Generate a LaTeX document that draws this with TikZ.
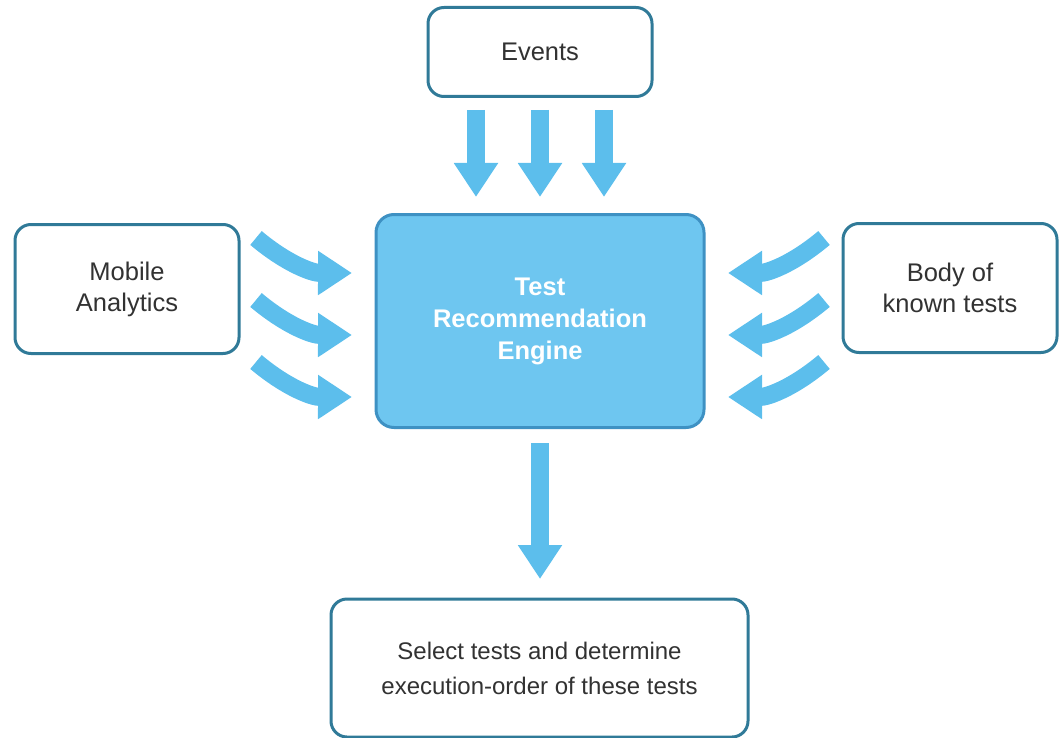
\documentclass[tikz,border=0pt]{standalone}
\usepackage{fontspec}
\setmainfont{Liberation Sans}
\usetikzlibrary{arrows.meta}
\definecolor{boxline}{RGB}{48,122,152}
\definecolor{enginefill}{RGB}{110,198,240}
\definecolor{engineline}{RGB}{62,145,195}
\definecolor{flow}{RGB}{92,190,236}
\definecolor{txt}{RGB}{50,50,50}
\tikzset{
  card/.style={draw=boxline, line width=3pt, rounded corners=16pt, fill=white,
    align=center, text=txt, font=\fontsize{25.5}{31}\selectfont, inner sep=0pt},
  engine/.style={draw=engineline, line width=3pt, rounded corners=18pt, fill=enginefill,
    align=center, text=white, font=\bfseries\fontsize{25.5}{32}\selectfont, inner sep=0pt},
  flowarrow/.style={draw=flow, line width=18pt, -{Triangle[width=42pt,length=34pt]}},
}
\begin{document}
\begin{tikzpicture}[x=1pt,y=-1pt]
\useasboundingbox (0,0) rectangle (1059,738);

% boxes
\node[card, minimum width=224pt, minimum height=89pt] (ev) at (540,52) {Events};
\node[card, minimum width=224pt, minimum height=129pt] (ma) at (127,289) {Mobile\\Analytics};
\node[card, minimum width=214pt, minimum height=129pt] (bk) at (950,288) {Body of\\known tests};
\node[engine, minimum width=328pt, minimum height=213pt] (eng) at (540,321) {Test\\Recommendation\\Engine};
\node[card, minimum width=417pt, minimum height=138pt, font=\fontsize{24}{35}\selectfont] (sel) at (539.5,668) {Select tests and determine\\execution-order of these tests};

% inputs from Events
\foreach \i/\x in {1/476,2/540,3/604}{
  \coordinate (es\i) at (\x,110);
  \coordinate (ee\i) at (\x,197);
  \draw[flowarrow] (es\i) -- (ee\i);
}

% inputs from Mobile Analytics
\foreach \i/\y in {1/0,2/62,3/124}{
  \coordinate (ms\i) at (256,238+\y);
  \coordinate (me\i) at (352,273+\y);
  \draw[flowarrow] (ms\i) to[bend right=20] (me\i);
}

% inputs from the body of known tests
\foreach \i/\y in {1/0,2/62,3/124}{
  \coordinate (bs\i) at (824,238+\y);
  \coordinate (be\i) at (728,273+\y);
  \draw[flowarrow] (bs\i) to[bend left=20] (be\i);
}

% output to the selection step
\coordinate (os) at (540,443);
\coordinate (oe) at (540,579);
\draw[flowarrow] (os) -- (oe);
\end{tikzpicture}
\end{document}
